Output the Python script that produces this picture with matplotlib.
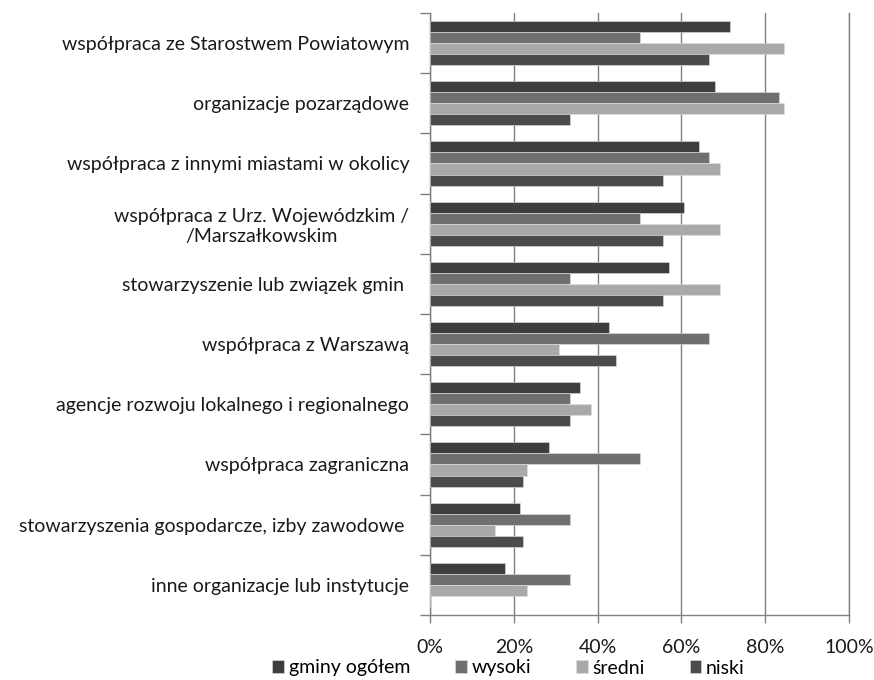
import matplotlib
matplotlib.use("Agg")
import matplotlib.pyplot as plt
import numpy as np
from matplotlib.ticker import FuncFormatter

plt.rcParams['font.family'] = ['Lato', 'DejaVu Sans']

categories = [
    "współpraca ze Starostwem Powiatowym",
    "organizacje pozarządowe",
    "współpraca z innymi miastami w okolicy",
    "współpraca z Urz. Wojewódzkim /\n/Marszałkowskim",
    "stowarzyszenie lub związek gmin ",
    "współpraca z Warszawą",
    "agencje rozwoju lokalnego i regionalnego",
    "współpraca zagraniczna",
    "stowarzyszenia gospodarcze, izby zawodowe ",
    "inne organizacje lub instytucje",
]
series_names = ["gminy ogółem", "wysoki", "średni", "niski"]
gminy_ogolem = [71.5, 67.9, 64.3, 60.7, 57.1, 42.8, 35.7, 28.5, 21.4, 17.8]
wysoki = [50.0, 83.3, 66.7, 50.0, 33.3, 66.7, 33.3, 50.0, 33.3, 33.3]
sredni = [84.6, 84.6, 69.2, 69.2, 69.2, 30.8, 38.5, 23.1, 15.4, 23.1]
niski = [66.7, 33.3, 55.6, 55.6, 55.6, 44.4, 33.3, 22.2, 22.2, 0.0]
xticks = [0, 20, 40, 60, 80, 100]

series = [gminy_ogolem, wysoki, sredni, niski]
colors = ["#3e3e3e", "#6f6f6f", "#a9a9a9", "#4b4b4b"]

fig = plt.figure(figsize=(8.74, 6.8), dpi=100)
ax = fig.add_axes([430/874, 1-615/680, 419/874, 602/680])

n = len(categories)
y = np.arange(n)
bh = 0.183
offsets = [-1.5, -0.5, 0.5, 1.5]
for s, vals, c, off in zip(series_names, series, colors, offsets):
    ax.barh(y + off*bh, vals, height=bh, color=c, edgecolor="#e0e0e0",
            linewidth=0.4, label=s, zorder=3)

ax.set_ylim(n-0.5, -0.5)
ax.set_xlim(0, 100)
ax.set_xticks(xticks)
ax.xaxis.set_major_formatter(FuncFormatter(lambda v, p: f"{int(v)}%"))
ax.set_yticks(y)
ax.set_yticklabels(categories, multialignment='center')
ax.set_yticks(np.arange(-0.5, n, 1.0), minor=True)
ax.tick_params(axis='y', which='major', length=0, pad=15, labelsize=14, labelcolor='#1a1a1a')
ax.tick_params(axis='y', which='minor', length=7, width=1, color='#808080', direction='out')
ax.tick_params(axis='x', which='major', length=6, width=1, color='#808080', direction='out',
               labelsize=14, pad=11, labelcolor='#1a1a1a')

ax.grid(axis='x', color='#7f7f7f', linewidth=1.0, zorder=0)
ax.spines['top'].set_visible(False)
for side in ['left', 'bottom', 'right']:
    ax.spines[side].set_color('#808080')
    ax.spines[side].set_linewidth(1.0)

leg = fig.legend(loc='center', bbox_to_anchor=(0.582, 1-668/680), ncol=4, frameon=False,
                 fontsize=14, handlelength=0.6, handleheight=0.6, handletextpad=0.25,
                 columnspacing=2.3)

fig.savefig("out.png", dpi=100)
